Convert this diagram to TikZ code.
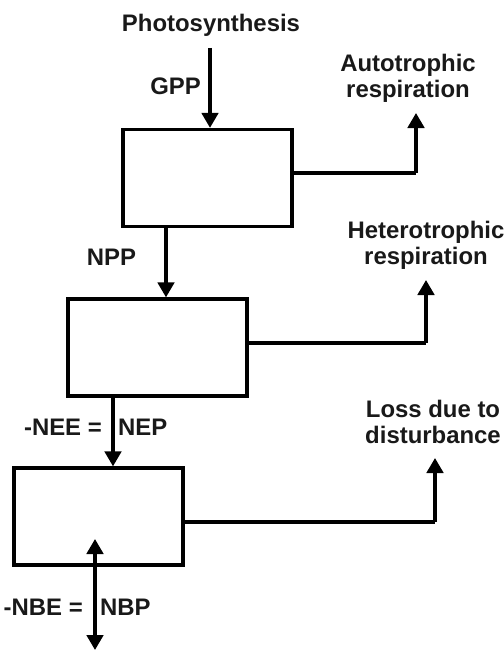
\documentclass[tikz,border=0pt]{standalone}
\usepackage{fontspec}
\setmainfont{Liberation Sans}
\usetikzlibrary{arrows.meta}
\begin{document}
\begin{tikzpicture}[x=1bp,y=-1bp,
  lbl/.style={font=\bfseries\fontsize{24}{26}\selectfont, inner sep=0pt, text=black!90},
  pool/.style={draw, line width=3.3bp, minimum width=#1, minimum height=97bp, inner sep=0pt},
  flow/.style={line width=3.3bp, -{Triangle[width=16.5bp,length=15bp]}},
  flowline/.style={line width=3.3bp},
  both/.style={line width=3.3bp, {Triangle[width=16.5bp,length=15bp]}-{Triangle[width=16.5bp,length=15bp]}}]
\useasboundingbox (0,0) rectangle (504,651);
\fill[white] (0,0) rectangle (504,651);

% pools
\node[pool=169bp] (b1) at (207.5,178) {};
\node[pool=179bp] (b2) at (157.5,347.5) {};
\node[pool=169bp] (b3) at (98.5,516.5) {};

% labels
\node[lbl, anchor=base] (photo) at (211,32) {Photosynthesis};
\node[lbl, anchor=base] (gpp) at (175.5,95) {GPP};
\node[lbl, anchor=base] (npp) at (111.5,265) {NPP};
\node[lbl, anchor=base east] (nee) at (102,435) {-NEE =};
\node[lbl, anchor=base west] (nep) at (118,435) {NEP};
\node[lbl, anchor=base east] (nbe) at (83,615) {-NBE =};
\node[lbl, anchor=base west] (nbp) at (100,615) {NBP};
\node[lbl, anchor=north, align=center] (ar) at (408,54) {Autotrophic\\respiration};
\node[lbl, anchor=north, align=center] (hr) at (426,221) {Heterotrophic\\respiration};
\node[lbl, anchor=north, align=center] (ld) at (433,400) {Loss due to\\disturbance};

% vertical flows
\coordinate (p0) at (210,48);
\draw[flow] (p0) -- (p0 |- b1.north);
\coordinate (p1) at (166,0);
\draw[flow] (p1 |- b1.south) -- (p1 |- b2.north);
\coordinate (p2) at (113,0);
\draw[flow] (p2 |- b2.south) -- (p2 |- b3.north);
\coordinate (q1) at (95,539);
\coordinate (q2) at (95,650);
\draw[both] (q1) -- (q2);

% losses
\coordinate (r1) at (416,173);
\coordinate (t1) at (416,113);
\draw[flowline] (b1.east |- r1) -- (r1);
\draw[flow] (r1) -- (t1);
\coordinate (r2) at (426,343);
\coordinate (t2) at (426,280);
\draw[flowline] (b2.east |- r2) -- (r2);
\draw[flow] (r2) -- (t2);
\coordinate (r3) at (435,522);
\coordinate (t3) at (435,458);
\draw[flowline] (b3.east |- r3) -- (r3);
\draw[flow] (r3) -- (t3);
\end{tikzpicture}
\end{document}
